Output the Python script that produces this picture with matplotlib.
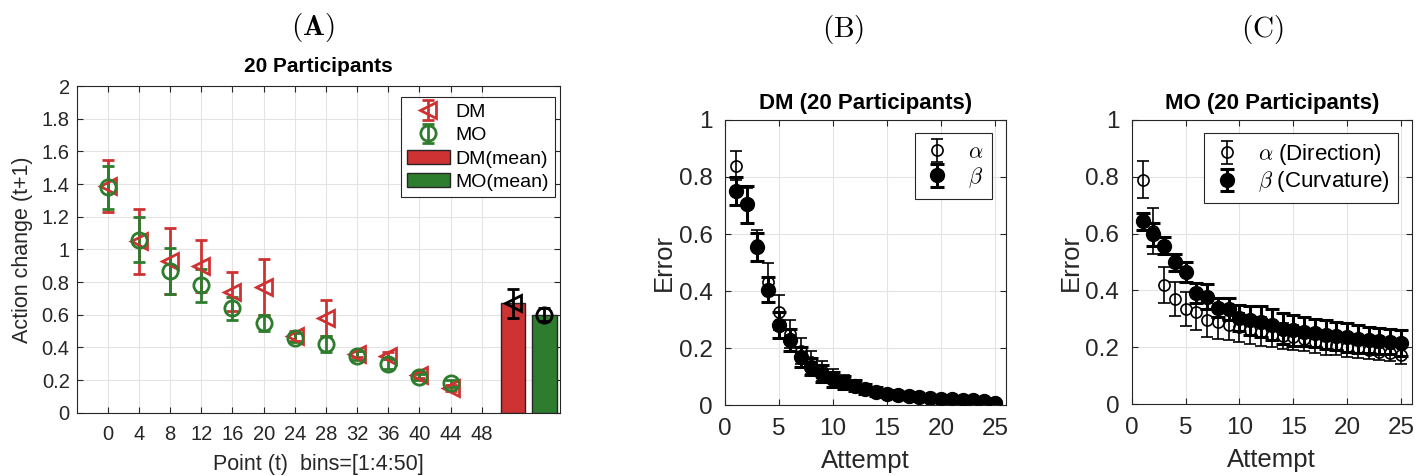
#!/usr/bin/env python3
import matplotlib
matplotlib.use('Agg')
import matplotlib.pyplot as plt
from matplotlib.patches import Patch
from matplotlib.ticker import FuncFormatter

plt.rcParams['font.family'] = ['Liberation Sans', 'DejaVu Sans']
plt.rcParams['mathtext.fontset'] = 'cm'

RED = '#cf3232'
GREEN = '#2e7d2e'
GRID = '#e3e3e3'
AXC = '#262626'

# Panel A data: action change per bin
bins = [0, 4, 8, 12, 16, 20, 24, 28, 32, 36, 40, 44]
dm_mean = [1.39, 1.05, 0.93, 0.90, 0.74, 0.77, 0.47, 0.58, 0.36, 0.35, 0.23, 0.15]
dm_err = [0.16, 0.20, 0.20, 0.16, 0.12, 0.17, 0.03, 0.11, 0.02, 0.02, 0.02, 0.02]
mo_mean = [1.38, 1.06, 0.87, 0.78, 0.64, 0.55, 0.46, 0.42, 0.35, 0.30, 0.22, 0.18]
mo_err = [0.13, 0.14, 0.14, 0.10, 0.07, 0.05, 0.03, 0.05, 0.03, 0.03, 0.02, 0.02]
bar_pos = [52, 56]
bar_vals = [0.67, 0.60]
bar_err = [0.09, 0.04]
a_xticks = [0, 4, 8, 12, 16, 20, 24, 28, 32, 36, 40, 44, 48]

# Panel B / C data: error per attempt
attempts = list(range(1, 26))
dm_alpha = [0.84, 0.70, 0.56, 0.43, 0.325, 0.25, 0.19, 0.15, 0.12, 0.095,
            0.08, 0.065, 0.055, 0.045, 0.04, 0.035, 0.03, 0.027, 0.024, 0.022,
            0.02, 0.018, 0.016, 0.014, 0.01]
dm_alpha_err = [0.05, 0.06, 0.055, 0.07, 0.06, 0.05, 0.045, 0.04, 0.035, 0.03,
                0.025, 0.02, 0.018, 0.015, 0.012, 0.01, 0.01, 0.009, 0.008, 0.008,
                0.007, 0.007, 0.006, 0.006, 0.005]
dm_beta = [0.75, 0.705, 0.555, 0.405, 0.28, 0.228, 0.17, 0.134, 0.11, 0.09,
           0.08, 0.068, 0.056, 0.047, 0.04, 0.035, 0.031, 0.028, 0.025, 0.022,
           0.02, 0.019, 0.017, 0.015, 0.008]
dm_beta_err = [0.05, 0.065, 0.05, 0.045, 0.045, 0.04, 0.035, 0.03, 0.03, 0.025,
               0.022, 0.02, 0.017, 0.015, 0.012, 0.011, 0.01, 0.009, 0.009, 0.008,
               0.008, 0.007, 0.007, 0.006, 0.005]
mo_alpha = [0.79, 0.61, 0.42, 0.37, 0.335, 0.325, 0.297, 0.29, 0.28, 0.27,
            0.26, 0.255, 0.245, 0.24, 0.235, 0.228, 0.22, 0.213, 0.207, 0.202,
            0.196, 0.19, 0.185, 0.18, 0.172]
mo_alpha_err = [0.065, 0.08, 0.063, 0.06, 0.06, 0.065, 0.06, 0.06, 0.055, 0.05,
                0.05, 0.05, 0.045, 0.045, 0.045, 0.04, 0.04, 0.04, 0.035, 0.035,
                0.035, 0.03, 0.03, 0.03, 0.03]
mo_beta = [0.643, 0.597, 0.557, 0.499, 0.464, 0.392, 0.378, 0.34, 0.335, 0.303,
           0.295, 0.29, 0.28, 0.265, 0.26, 0.255, 0.25, 0.245, 0.24, 0.235,
           0.23, 0.225, 0.222, 0.22, 0.215]
mo_beta_err = [0.03, 0.04, 0.03, 0.03, 0.035, 0.035, 0.045, 0.035, 0.04, 0.045,
               0.05, 0.055, 0.055, 0.055, 0.055, 0.05, 0.05, 0.05, 0.05, 0.05,
               0.05, 0.045, 0.045, 0.045, 0.045]


def matlab_axes(ax, size, xpad, ypad):
    ax.grid(True, color=GRID, linewidth=0.8)
    ax.set_axisbelow(True)
    ax.tick_params(direction='in', top=True, right=True, length=4,
                   width=0.8, colors=AXC, labelsize=size)
    ax.tick_params(axis='x', pad=xpad)
    ax.tick_params(axis='y', pad=ypad)
    for s in ax.spines.values():
        s.set_color(AXC)
        s.set_linewidth(0.8)


def gfmt(v, pos):
    return '%g' % round(v, 2)


def main():
    fig = plt.figure(figsize=(14.25, 4.76), dpi=100)

    # ---- Panel A
    ax = fig.add_axes([0.0538, 0.133, 0.339, 0.686])
    ax.errorbar(bins, dm_mean, yerr=dm_err, fmt='<', color=RED, mfc='none',
                ms=11, mew=2, elinewidth=2, capsize=4, capthick=2, label='DM')
    ax.errorbar(bins, mo_mean, yerr=mo_err, fmt='o', color=GREEN, mfc='none',
                ms=11, mew=2, elinewidth=2, capsize=4, capthick=2, label='MO')
    ax.bar(bar_pos, bar_vals, width=3.2, color=[RED, GREEN], edgecolor=AXC,
           linewidth=1, zorder=2)
    ax.errorbar(bar_pos[0], bar_vals[0], yerr=bar_err[0], fmt='<', color='k',
                mfc='none', ms=11, mew=2, elinewidth=2, capsize=4, capthick=2,
                zorder=3)
    ax.errorbar(bar_pos[1], bar_vals[1], yerr=bar_err[1], fmt='o', color='k',
                mfc='none', ms=11, mew=2, elinewidth=2, capsize=4, capthick=2,
                zorder=3)
    ax.set_xlim(-4, 58)
    ax.set_ylim(0, 2)
    ax.set_xticks(a_xticks)
    ax.set_yticks([i * 0.2 for i in range(11)])
    ax.yaxis.set_major_formatter(FuncFormatter(gfmt))
    matlab_axes(ax, 14.5, 9, 5)
    ax.set_xlabel('Point (t)  bins=[1:4:50]', fontsize=15.5, color=AXC, labelpad=7)
    ax.set_ylabel('Action change (t+1)', fontsize=15.5, color=AXC, labelpad=6)
    ax.set_title('20 Participants', fontsize=15, fontweight='bold', pad=10)
    h, l = ax.get_legend_handles_labels()
    h += [Patch(facecolor=RED, edgecolor=AXC), Patch(facecolor=GREEN, edgecolor=AXC)]
    l += ['DM(mean)', 'MO(mean)']
    leg = ax.legend(h, l, loc='upper right', bbox_to_anchor=(0.99, 0.966),
                    fontsize=14, fancybox=False, framealpha=1, edgecolor=AXC,
                    handlelength=2.2, borderaxespad=0, labelspacing=0.3,
                    handletextpad=0.3, borderpad=0.3)
    leg.get_frame().set_linewidth(0.8)

    # ---- Panels B and C
    specs = [
        ([0.5088, 0.149, 0.197, 0.599], 'DM (20 Participants)',
         dm_alpha, dm_alpha_err, dm_beta, dm_beta_err,
         [r'$\alpha$', r'$\beta$']),
        ([0.7942, 0.151, 0.1965, 0.597], 'MO (20 Participants)',
         mo_alpha, mo_alpha_err, mo_beta, mo_beta_err,
         [r'$\alpha$ (Direction)', r'$\beta$ (Curvature)']),
    ]
    for pos, title, a, ae, b, be, labels in specs:
        ax = fig.add_axes(pos)
        ax.errorbar(attempts, a, yerr=ae, fmt='o', color='k', mfc='none',
                    ms=8, mew=1.2, elinewidth=1.2, capsize=4, capthick=1.2,
                    label=labels[0], zorder=3)
        ax.errorbar(attempts, b, yerr=be, fmt='o', color='k', mfc='k',
                    ms=10, elinewidth=2.2, capsize=5, capthick=2.2,
                    label=labels[1], zorder=2)
        ax.set_xlim(0, 26)
        ax.set_ylim(0, 1)
        ax.set_xticks([0, 5, 10, 15, 20, 25])
        ax.set_yticks([0, 0.2, 0.4, 0.6, 0.8, 1])
        ax.yaxis.set_major_formatter(FuncFormatter(gfmt))
        matlab_axes(ax, 17.5, 9, 9)
        ax.set_xlabel('Attempt', fontsize=18.5, color=AXC, labelpad=7)
        ax.set_ylabel('Error', fontsize=18.5, color=AXC, labelpad=2)
        ax.set_title(title, fontsize=16, fontweight='bold', pad=8)
        leg = ax.legend(loc='upper right', fontsize=16, fancybox=False,
                        framealpha=1, edgecolor=AXC, handlelength=1.2,
                        labelspacing=0.1, borderaxespad=0.6, handletextpad=0.8)
        leg.get_frame().set_linewidth(0.8)

    fig.text(0.2196, 0.943, r'$\mathbf{(A)}$', fontsize=21, ha='center', va='center')
    fig.text(0.592, 0.937, r'$\mathrm{(B)}$', fontsize=21, ha='center', va='center')
    fig.text(0.886, 0.937, r'$\mathrm{(C)}$', fontsize=21, ha='center', va='center')

    fig.savefig('out.png', dpi=100)


if __name__ == '__main__':
    main()
